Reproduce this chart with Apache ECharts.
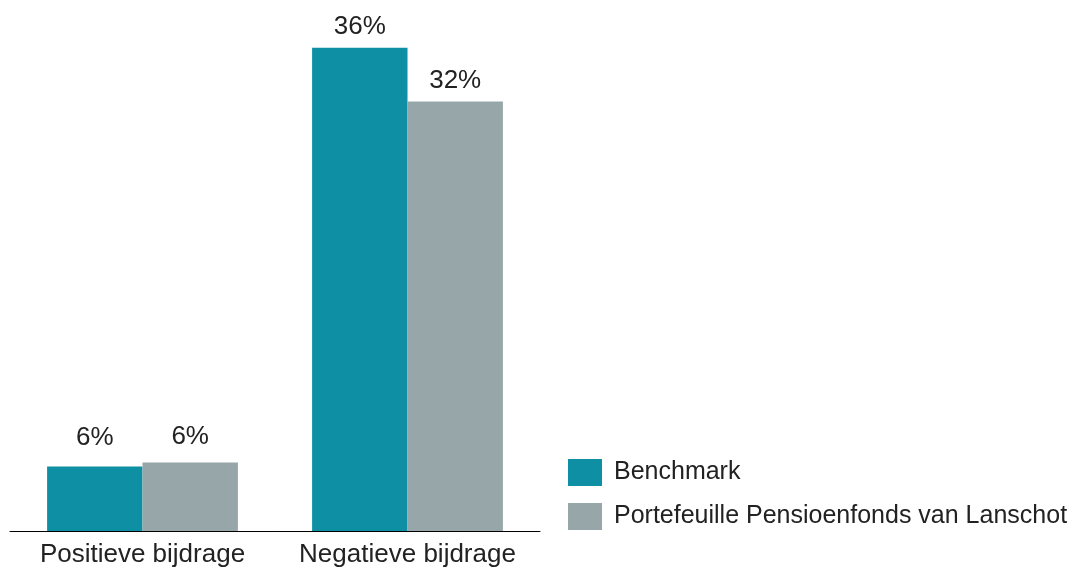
<!DOCTYPE html>
<html>
<head>
<meta charset="utf-8">
<script src="https://cdn.jsdelivr.net/npm/echarts@6/dist/echarts.min.js"></script>
<style>html,body{margin:0;padding:0;background:#fff}#c{width:1086px;height:570px}</style>
</head>
<body>
<div id="c"></div>
<script>
var categories = ['Positieve bijdrage', 'Negatieve bijdrage'];
var seriesNames = ['Benchmark', 'Portefeuille Pensioenfonds van Lanschot'];
var benchmarkValues = [4.8, 36];
var portfolioValues = [5.1, 32];
var benchmarkLabels = ['6%', '36%'];
var portfolioLabels = ['6%', '32%'];

var FONT = '"Liberation Sans", Arial, sans-serif';
var FS = 26;
var extraDist = [[8, 0], [5, 0]];

function buildData(vals, labels, extra) {
  return vals.map(function (v, i) {
    return { value: v, label: { formatter: labels[i], distance: 8 + extra[i] } };
  });
}

var chart = echarts.init(document.getElementById('c'), null, { renderer: 'canvas' });
chart.setOption({
  animation: false,
  textStyle: { fontFamily: FONT },
  grid: { left: 10, right: 546, top: 21, bottom: 39, containLabel: false },
  legend: {
    orient: 'vertical',
    left: 568,
    top: 459,
    padding: 0,
    itemWidth: 34,
    itemHeight: 27,
    itemGap: 17,
    icon: 'rect',
    textStyle: { fontSize: 25, color: '#222', fontFamily: FONT, padding: [0, 0, 0, 7] },
    data: seriesNames
  },
  xAxis: {
    type: 'category',
    data: categories,
    axisLine: { lineStyle: { color: '#000', width: 1 } },
    axisTick: { show: false },
    axisLabel: { fontSize: FS, color: '#222', margin: 11, interval: 0, fontFamily: FONT }
  },
  yAxis: {
    type: 'value',
    min: 0,
    max: 38,
    show: false,
    splitLine: { show: false }
  },
  series: [
    {
      name: seriesNames[0],
      type: 'bar',
      barCategoryGap: '28%',
      barGap: '0%',
      itemStyle: { color: '#0e8fa3' },
      label: { show: true, position: 'top', fontSize: FS, color: '#222', fontFamily: FONT },
      data: buildData(benchmarkValues, benchmarkLabels, extraDist[0])
    },
    {
      name: seriesNames[1],
      type: 'bar',
      barCategoryGap: '28%',
      barGap: '0%',
      itemStyle: { color: '#97a6a9' },
      label: { show: true, position: 'top', fontSize: FS, color: '#222', fontFamily: FONT },
      data: buildData(portfolioValues, portfolioLabels, extraDist[1])
    }
  ]
});
</script>
</body>
</html>
